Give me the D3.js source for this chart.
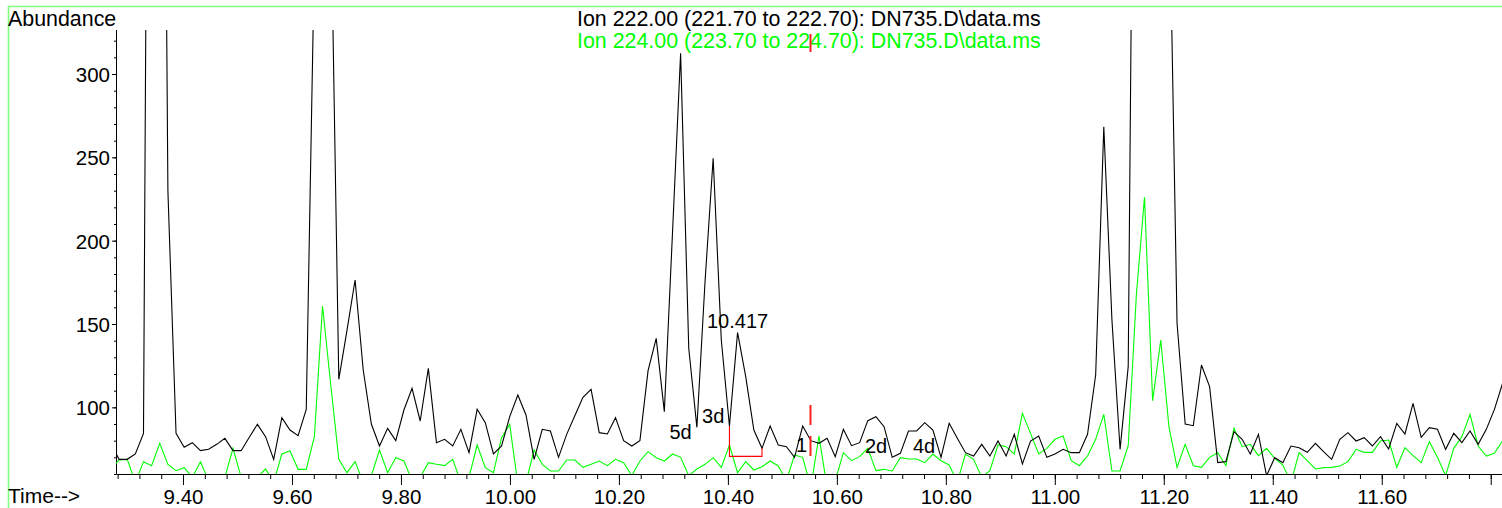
<!DOCTYPE html>
<html><head><meta charset="utf-8">
<script src="https://cdn.jsdelivr.net/npm/d3@7"></script>
<style>
html,body{margin:0;padding:0;background:#fff;overflow:hidden}
svg{display:block}
text{font-family:"Liberation Sans",Arial,Helvetica,sans-serif}
</style></head><body>
<svg id="chart" width="1502" height="508"></svg>
<script>
// ---- data ----
const scanStart = 9.2677;      // retention time of first scan (min)
const scanInterval = 0.014936; // time between scans (min)

const ion222 = [
  78, 68.8, 68.8, 72, 84.4, 950, 880, 230, 84.4, 76,
  78.8, 74, 74.8, 77.8, 81.4, 74, 74, 82, 89.8, 82.4,
  68.8, 93.8, 86.4, 83, 98.8, 370, 620, 410, 116.8, 146,
  176.4, 122.4, 90, 76.8, 87.4, 80, 98.4, 111.4, 91.8, 123.4,
  78.8, 80.8, 76.8, 86.8, 72.8, 98.8, 90.8, 72, 76.8, 94.4,
  107.4, 95.4, 68.8, 86.8, 85.8, 70, 83.8, 95, 106, 110.8,
  84.8, 84, 93.8, 80, 76.8, 80, 122, 141.4, 97.4, 204.4,
  312.4, 135.4, 88, 175.4, 249.4, 140.4, 88.8, 144.8, 118.4, 86.4,
  75.4, 88.8, 77.4, 76.4, 70, 88.8, 80, 78.4, 81.4, 70.4,
  86.8, 77, 78.8, 92, 94.4, 88.4, 70, 72.4, 85.8, 85.8,
  90.8, 86.4, 70, 90.4, 81.4, 72.8, 70.8, 77.8, 70.8, 79.8,
  70.8, 83.8, 66, 79.8, 82.8, 70, 72, 74.8, 72.8, 72.8,
  83.8, 119.4, 268.4, 152.4, 74.8, 124.4, 700, 1500, 2000, 1500,
  425, 150.4, 90, 89, 125.4, 112.4, 66.8, 67.4, 85.4, 80.8,
  72, 83.8, 59, 69.8, 66.8, 76.8, 75.8, 73, 78.4, 73.4,
  68.8, 80.8, 84.8, 79.8, 81.8, 76.8, 82.4, 75, 90.4, 84,
  102.4, 82, 87.8, 86.8, 74.8, 84.4, 78.8, 85.8, 77.8, 86.8,
  98.8, 114.4
];

const ion224 = [
  63, 68.4, 68.8, 55, 67.4, 65, 78.4, 65.8, 62, 63.8,
  58, 67.4, 56, 55, 58, 75.4, 58, 55, 58, 63,
  55, 72, 73.8, 62.8, 62.8, 82.4, 160.8, 114, 68.8, 60.8,
  67.4, 55, 59, 74.4, 60.8, 69.8, 67.8, 56, 58, 66.8,
  65.8, 65, 68.8, 55, 58, 77.4, 63.8, 60.8, 81.8, 89.8,
  54, 55, 74.4, 65.8, 61.8, 61.8, 68.4, 68.4, 64, 65.8,
  67.8, 65, 68.8, 66.8, 59, 67.8, 73.4, 69.8, 67.8, 72,
  70, 59, 63, 65.8, 69.8, 64, 77.4, 60.8, 67.4, 62.4,
  64.4, 67.8, 64.8, 56, 71.4, 70, 52, 82.8, 52, 56,
  72.8, 68, 70.4, 75.4, 62, 62.8, 61.8, 69.8, 69, 69,
  66.8, 72, 68, 65.4, 55, 72, 68.8, 58, 62, 77.4,
  76.4, 72, 96.4, 84.4, 72, 75.4, 80.8, 82.8, 68, 65,
  70.8, 80.8, 95.8, 61.8, 61.8, 77, 167.4, 226, 104, 140.4,
  88.4, 64, 77.8, 65, 64, 70, 72.8, 65, 87.4, 76.4,
  77.8, 71, 75.4, 69.4, 65.4, 55, 72.8, 68, 63, 63.8,
  64, 64.8, 67.4, 74.8, 73, 73, 79.8, 80.4, 64, 75.8,
  71, 66.8, 79.4, 70, 59, 75.4, 82.4, 95.8, 76.8, 70.8,
  72.4, 80
];

const xLabelTicks = [9.40, 9.60, 9.80, 10.00, 10.20, 10.40, 10.60, 10.80, 11.00, 11.20, 11.40, 11.60];
const xTickLabels = ["9.40", "9.60", "9.80", "10.00", "10.20", "10.40", "10.60", "10.80", "11.00", "11.20", "11.40", "11.60"];
const xMajorTicks = [9.40, 9.60, 9.80, 10.00, 10.20, 10.40, 10.60, 10.80, 11.00, 11.20, 11.40, 11.60, 11.80];
const yLabelTicks = [100, 150, 200, 250, 300];
const yTickLabels = ["100", "150", "200", "250", "300"];

const titleLines = [
  "Ion 222.00 (221.70 to 222.70): DN735.D\\data.ms",
  "Ion 224.00 (223.70 to 224.70): DN735.D\\data.ms"
];

// peak / compound annotations: text, retention time, abundance of text baseline
const annotText = ["10.417", "5d", "3d", "1", "2d", "4d"];
const annotTime = [10.4178, 10.3132, 10.3730, 10.535, 10.672, 10.760];
const annotValue = [147.4, 80.8, 90.8, 73.2, 72.6, 72.6];

// integration of the 10.417 peak (scan indices and baseline abundance)
const integStartScan = 76, integEndScan = 80, integBaseline = 70.6;
// cursor position (min)
const cursorTime = 10.551;

// ---- drawing ----
const svg = d3.select("#chart");
const W = 1502, H = 508;
const P = {left: 116, right: 1502, top: 30, bottom: 474};

const x = d3.scaleLinear().domain([9.277, 11.8207]).range([P.left, P.right]);
const y = d3.scaleLinear().domain([60, 326.4]).range([P.bottom, P.top]);

const times = ion222.map((_, i) => scanStart + i * scanInterval);
const s222 = ion222.map((v, i) => ({t: times[i], v}));
const s224 = ion224.map((v, i) => ({t: times[i], v}));

svg.append("rect").attr("width", W).attr("height", H).attr("fill", "#fff");

// outer frame (light green)
svg.append("path").attr("d", `M8.5,${H + 5}V6.5H${W + 5}`)
  .attr("fill", "none").attr("stroke", "#80ff80").attr("stroke-width", 1.6);

svg.append("defs").append("clipPath").attr("id", "plotClip")
  .append("rect").attr("x", P.left).attr("y", P.top)
  .attr("width", P.right - P.left).attr("height", P.bottom - P.top);

const fs = 20;

// axes
const minorX = d3.range(0, 64).map(k => 9.28 + k * 0.04);
const xMinor = svg.append("g").attr("transform", `translate(0,${P.bottom})`)
  .call(d3.axisBottom(x).tickValues(minorX).tickSize(5).tickSizeOuter(0).tickFormat(""));
xMinor.select(".domain").remove();
const xMajor = svg.append("g").attr("transform", `translate(0,${P.bottom})`)
  .call(d3.axisBottom(x).tickValues(xMajorTicks).tickSize(11).tickSizeOuter(0)
    .tickFormat(d => { const k = xLabelTicks.findIndex(v => Math.abs(v - d) < 1e-6); return k >= 0 ? xTickLabels[k] : ""; }));
xMajor.selectAll("text").attr("y", 30).attr("dy", null)
  .attr("font-size", 20.5).attr("fill", "#000").attr("font-family", null);

const minorY = d3.range(0, 27).map(k => 60 + k * 10);
const yMinor = svg.append("g").attr("transform", `translate(${P.left},0)`)
  .call(d3.axisLeft(y).tickValues(minorY).tickSize(2).tickSizeOuter(0).tickFormat(""));
yMinor.select(".domain").remove();
const yMajor = svg.append("g").attr("transform", `translate(${P.left},0)`)
  .call(d3.axisLeft(y).tickValues(yLabelTicks).tickSize(4).tickSizeOuter(0)
    .tickFormat((d, i) => yTickLabels[i]));
yMajor.select(".domain").remove();
yMajor.selectAll("text").attr("x", -6).attr("dy", "0.36em")
  .attr("font-size", 20.5).attr("fill", "#000").attr("font-family", null);

svg.selectAll(".tick line").attr("stroke", "#000");
svg.selectAll(".domain").attr("stroke", "#000");
svg.selectAll("g").attr("font-family", null);

// y axis line
svg.append("line").attr("x1", P.left + 0.5).attr("x2", P.left + 0.5)
  .attr("y1", P.top).attr("y2", P.bottom + 0.5).attr("stroke", "#000");

// series
const line = d3.line().x(d => x(d.t)).y(d => y(d.v));
const g = svg.append("g").attr("clip-path", "url(#plotClip)");
g.append("path").datum(s224).attr("d", line).attr("fill", "none")
  .attr("stroke", "#00ff00").attr("stroke-width", 1.1);
g.append("path").datum(s222).attr("d", line).attr("fill", "none")
  .attr("stroke", "#000").attr("stroke-width", 1.1);

// integration baseline
const ix0 = x(times[integStartScan]), ix1 = x(times[integEndScan]);
svg.append("path")
  .attr("d", `M${ix0},${y(ion222[integStartScan])}V${y(integBaseline)}H${ix1}V${y(ion222[integEndScan])}`)
  .attr("fill", "none").attr("stroke", "#ff0000").attr("stroke-width", 1.1);

// annotations
svg.append("g").selectAll("text").data(annotText).join("text")
  .attr("x", (d, i) => x(annotTime[i])).attr("y", (d, i) => y(annotValue[i]))
  .attr("text-anchor", "middle").attr("font-size", fs).attr("fill", "#000")
  .text(d => d);

// cursor marker
const cx = Math.round(x(cursorTime)) + 0.5;
[[y(101.4), y(89.4)], [y(82.8), y(70.8)]].forEach(([a, b]) =>
  svg.append("line").attr("x1", cx).attr("x2", cx).attr("y1", a).attr("y2", b)
    .attr("stroke", "#ff2020").attr("stroke-width", 2));

// texts
svg.append("text").attr("x", 8).attr("y", 26).attr("font-size", 21.4).text("Abundance");
svg.append("text").attr("x", 8).attr("y", 503).attr("font-size", 21).text("Time-->");
svg.append("text").attr("x", 577).attr("y", 26).attr("font-size", 21.4).attr("fill", "#000").text(titleLines[0]);
svg.append("text").attr("x", 577).attr("y", 48).attr("font-size", 21.4).attr("fill", "#00ff00").text(titleLines[1]);
svg.append("line").attr("x1", cx).attr("x2", cx).attr("y1", 34).attr("y2", 52)
  .attr("stroke", "#ff2020").attr("stroke-width", 2);
</script>
</body></html>
